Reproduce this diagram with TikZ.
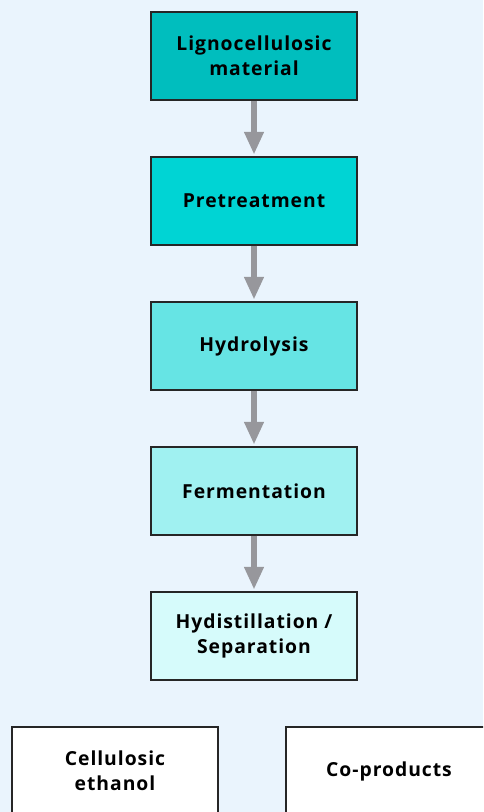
\documentclass[tikz,border=0pt]{standalone}
\usepackage{fontspec}
\setmainfont{Open Sans}
\newfontfamily\stagefont{Open Sans}[LetterSpace=5]
\usetikzlibrary{arrows.meta}
\definecolor{bgblue}{HTML}{EAF4FD}
\definecolor{stepA}{HTML}{00BEBE}
\definecolor{stepB}{HTML}{00D4D4}
\definecolor{stepC}{HTML}{66E4E4}
\definecolor{stepD}{HTML}{A0F1F1}
\definecolor{stepE}{HTML}{D6FBFB}
\definecolor{arrowgray}{HTML}{97979C}
\tikzset{
    stage/.style={draw=black!85, line width=0.8pt, minimum width=154.5pt, minimum height=66pt,
        align=center, font=\stagefont\bfseries\fontsize{14.5}{19}\selectfont, inner sep=0pt},
    flow/.style={draw=arrowgray, line width=4pt, -{Triangle[width=14pt,length=17pt]}, shorten >=1.5pt}
}
\begin{document}
\begin{tikzpicture}[x=0.75pt, y=-0.75pt]
    \fill[bgblue] (0,0) rectangle (483,812);
    \useasboundingbox (0,0) rectangle (483,812);
    \clip (0,0) rectangle (483,812);
    \node[stage, fill=stepA] (raw) at (254,56) {Lignocellulosic\\material};
    \node[stage, fill=stepB] (pre) at (254,201) {Pretreatment};
    \node[stage, fill=stepC] (hyd) at (254,346) {Hydrolysis};
    \node[stage, fill=stepD] (fer) at (254,491) {Fermentation};
    \node[stage, fill=stepE] (sep) at (254,636) {Hydistillation /\\Separation};
    \node[stage, fill=white] (eth) at (115,771) {Cellulosic\\ethanol};
    \node[stage, fill=white] (cop) at (389,771) {Co-products};
    \draw[flow] (raw) -- (pre);
    \draw[flow] (pre) -- (hyd);
    \draw[flow] (hyd) -- (fer);
    \draw[flow] (fer) -- (sep);
\end{tikzpicture}
\end{document}
